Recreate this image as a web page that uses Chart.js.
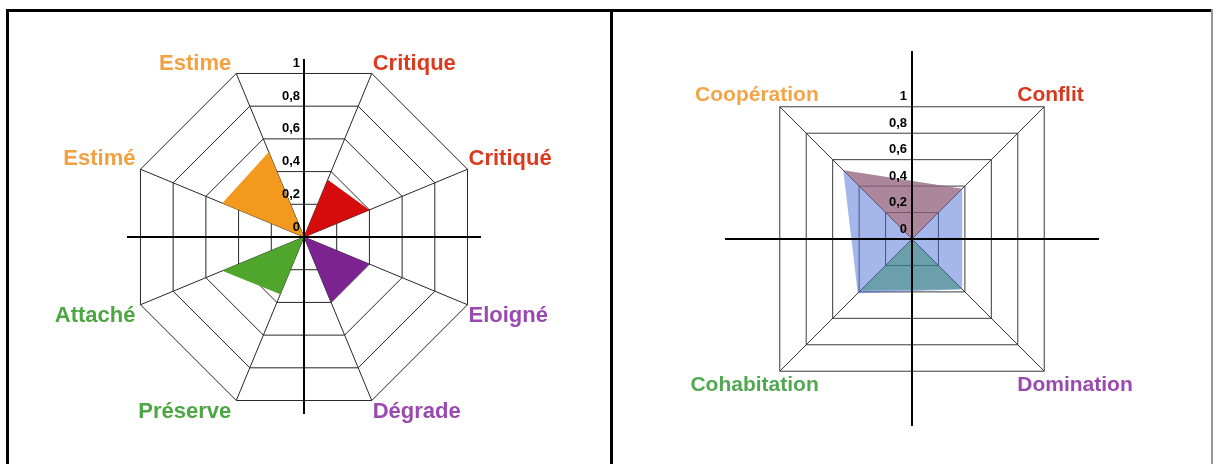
<!DOCTYPE html>
<html>
<head>
<meta charset="utf-8">
<script src="https://cdn.jsdelivr.net/npm/chart.js@4/dist/chart.umd.min.js"></script>
<style>
  html, body { margin: 0; padding: 0; background: #fff; }
  body { width: 1214px; height: 464px; position: relative; overflow: hidden; }
  canvas { position: absolute; top: 0; }
  .ln { position: absolute; background: #000; }
</style>
</head>
<body>
<canvas id="left" width="610" height="464" style="left:0"></canvas>
<canvas id="right" width="604" height="464" style="left:610px"></canvas>
<div class="ln" style="left:6px;top:9px;width:1207px;height:3px"></div>
<div class="ln" style="left:6px;top:9px;width:3px;height:455px"></div>
<div class="ln" style="left:610px;top:9px;width:3px;height:455px"></div>
<div class="ln" style="left:1211px;top:9px;width:2px;height:455px;background:#999"></div>
<script>
// ---------- data ----------
const radialTicks = [0, 0.2, 0.4, 0.6, 0.8, 1];
const radialTickLabels = ['0', '0,2', '0,4', '0,6', '0,8', '1'];

// Left chart (clockwise from the top-right spoke)
const leftCategories = ['Critique', 'Critiqué', 'Eloigné', 'Dégrade', 'Préserve', 'Attaché', 'Estimé', 'Estime'];
const leftRed    = [0.35, 0.40, 0, 0, 0, 0, 0, 0];
const leftPurple = [0, 0, 0.40, 0.40, 0, 0, 0, 0];
const leftGreen  = [0, 0, 0, 0, 0.35, 0.50, 0, 0];
const leftOrange = [0, 0, 0, 0, 0, 0, 0.50, 0.52];

// Right chart (clockwise from the top-left spoke)
const rightCategories = ['Coopération', 'Conflit', 'Domination', 'Cohabitation'];
const rightRed   = [0.52, 0.38, 0, 0];
const rightGreen = [0, 0, 0.38, 0.39];
const rightBlue  = [0.52, 0.38, 0.38, 0.41];

// ---------- styles ----------
const FONT = '"Liberation Sans", Arial, sans-serif';
const leftLabelColors = ['#DC3A1E', '#DC3A1E', '#9A4AAE', '#9A4AAE', '#4CA642', '#4CA642', '#F2A040', '#F2A040'];
const rightLabelColors = ['#F2A448', '#D8391E', '#9A4AAE', '#52A852'];

const decor = {
  id: 'decor',
  afterDraw(chart, args, o) {
    const s = chart.scales.r;
    const ctx = chart.ctx;
    const cx = s.xCenter, cy = s.yCenter, R = s.drawingArea;
    ctx.save();
    // axes cross
    ctx.strokeStyle = '#000';
    ctx.lineWidth = 2;
    ctx.beginPath();
    ctx.moveTo(cx - R, cy); ctx.lineTo(cx + R, cy);
    ctx.moveTo(cx, cy - R - 1); ctx.lineTo(cx, cy + R);
    ctx.stroke();
    // tick labels
    ctx.font = 'bold 13px ' + FONT;
    ctx.fillStyle = '#000';
    ctx.textAlign = 'right';
    ctx.textBaseline = 'middle';
    radialTicks.forEach((v, i) => {
      const y = s.getPointPosition(0, s.getDistanceFromCenterForValue(v)).y;
      ctx.fillText(radialTickLabels[i], cx - o.tickDx, y - o.tickDy);
    });
    // category labels
    ctx.font = 'bold ' + o.labelSize + 'px ' + FONT;
    const labels = chart.data.labels;
    labels.forEach((lab, i) => {
      const p = s.getPointPosition(i, R);
      const rightSide = p.x > cx;
      const top = p.y < cy;
      ctx.fillStyle = o.colors[i];
      ctx.textAlign = rightSide ? 'left' : 'right';
      const x = rightSide ? p.x + o.rightDx : p.x + o.leftDx;
      const y = top ? p.y + o.topDy : p.y + o.bottomDy;
      ctx.fillText(lab, x, y);
    });
    ctx.restore();
  }
};

function ds(data, color) {
  return { data, backgroundColor: color, borderColor: 'rgba(0,0,0,0)', borderWidth: 0,
           pointRadius: 0, pointHoverRadius: 0, fill: 'origin', tension: 0 };
}

function radialScale(startAngle, gridColor) {
  return {
    min: 0, max: 1, startAngle, z: 1,
    ticks: { display: false, stepSize: 0.2 },
    pointLabels: { display: false },
    grid: { color: gridColor, lineWidth: 1 },
    angleLines: { color: gridColor, lineWidth: 1 }
  };
}

new Chart(document.getElementById('left'), {
  type: 'radar',
  data: {
    labels: leftCategories,
    datasets: [
      ds(leftRed, '#D60B0B'),
      ds(leftPurple, '#7D2391'),
      ds(leftGreen, '#50A62C'),
      ds(leftOrange, '#F39A1E')
    ]
  },
  options: {
    responsive: false, animation: false,
    layout: { padding: { left: 127, right: 128, top: 60, bottom: 49 } },
    plugins: {
      legend: { display: false }, tooltip: { enabled: false },
      decor: { tickDx: 4, tickDy: 10, labelSize: 22, colors: leftLabelColors,
               leftDx: -5, rightDx: 1, topDy: -10, bottomDy: 11 }
    },
    scales: { r: radialScale(22.5, '#262626') }
  },
  plugins: [decor]
});

new Chart(document.getElementById('right'), {
  type: 'radar',
  data: {
    labels: rightCategories,
    datasets: [
      ds(rightRed, 'rgba(180,90,78,0.5)'),
      ds(rightGreen, 'rgba(50,138,110,0.5)'),
      ds(rightBlue, 'rgba(75,110,215,0.5)')
    ]
  },
  options: {
    responsive: false, animation: false,
    layout: { padding: { left: 115, right: 115, top: 52, bottom: 38 } },
    plugins: {
      legend: { display: false }, tooltip: { enabled: false },
      decor: { tickDx: 5, tickDy: 10, labelSize: 21, colors: rightLabelColors,
               leftDx: 39, rightDx: -27, topDy: -12, bottomDy: 14 }
    },
    scales: { r: radialScale(-45, '#3a3a3a') }
  },
  plugins: [decor]
});
</script>
</body>
</html>
